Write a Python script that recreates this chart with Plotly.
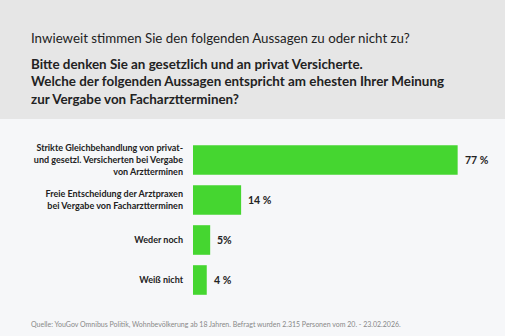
import plotly.graph_objects as go

categories = [
    "Strikte Gleichbehandlung von privat-<br>und gesetzl. Versicherten bei Vergabe<br>von Arztterminen",
    "Freie Entscheidung der Arztpraxen<br>bei Vergabe von Facharztterminen",
    "Weder noch",
    "Weiß nicht",
]
values = [77, 14, 5, 4]
value_labels = ["77 %", "14 %", "5%", "4 %"]

title_q = "Inwieweit stimmen Sie den folgenden Aussagen zu oder nicht zu?"
title_bold_lines = [
    "Bitte denken Sie an gesetzlich und an privat Versicherte.",
    "Welche der folgenden Aussagen entspricht am ehesten Ihrer Meinung",
    "zur Vergabe von Facharztterminen?",
]
source = ("Quelle: YouGov Omnibus Politik, Wohnbevölkerung ab 18 Jahren. "
          "Befragt wurden 2.315 Personen vom 20. - 23.02.2026.")

W, H = 505, 336
ML, MR, MT, MB = 193, 3, 140, 36
PW, PH = W - ML - MR, H - MT - MB

def px(x):
    return (x - ML) / PW

def py(y):
    return (H - MB - y) / PH

FONT = "Lato"
GREEN = "#45d630"
DARK = "#222222"

fig = go.Figure()
fig.add_trace(go.Bar(
    x=values, y=categories, orientation="h",
    marker=dict(color=GREEN, line=dict(width=0)),
    hoverinfo="skip",
))

annotations = []
for c, v, t in zip(categories, values, value_labels):
    annotations.append(dict(
        x=v, y=c, xref="x", yref="y", text=t,
        showarrow=False, xanchor="left", xshift=5,
        font=dict(family=FONT, size=10.5, color=DARK, weight=700),
    ))

annotations.append(dict(
    x=px(29), y=py(38), xref="paper", yref="paper", text=title_q,
    showarrow=False, xanchor="left", yanchor="middle",
    font=dict(family=FONT, size=13.3, color=DARK)))
annotations.append(dict(
    x=px(29), y=py(81), xref="paper", yref="paper",
    text="<br>".join(title_bold_lines), align="left",
    showarrow=False, xanchor="left", yanchor="middle",
    font=dict(family=FONT, size=13.4, color=DARK, weight=700)))
annotations.append(dict(
    x=px(29), y=py(324), xref="paper", yref="paper", text=source,
    showarrow=False, xanchor="left", yanchor="middle",
    font=dict(family=FONT, size=7, color="#888888")))

fig.update_layout(
    width=W, height=H,
    margin=dict(l=ML, r=MR, t=MT, b=MB, pad=0),
    paper_bgcolor="#f6f7f9", plot_bgcolor="#f6f7f9",
    bargap=0.26, showlegend=False,
    annotations=annotations,
    shapes=[dict(type="rect", xref="paper", yref="paper",
                 x0=px(0), x1=px(W), y0=py(119), y1=py(0),
                 fillcolor="#e6e6e6", line=dict(width=0), layer="below")],
    xaxis=dict(range=[0, PW / 3.437], visible=False, fixedrange=True),
    yaxis=dict(autorange="reversed", showgrid=False, zeroline=False, showline=False,
               ticks="", ticklabelstandoff=9,
               tickfont=dict(family=FONT, size=9, color=DARK, weight=700),
               fixedrange=True),
)

fig.write_html("out.html")
